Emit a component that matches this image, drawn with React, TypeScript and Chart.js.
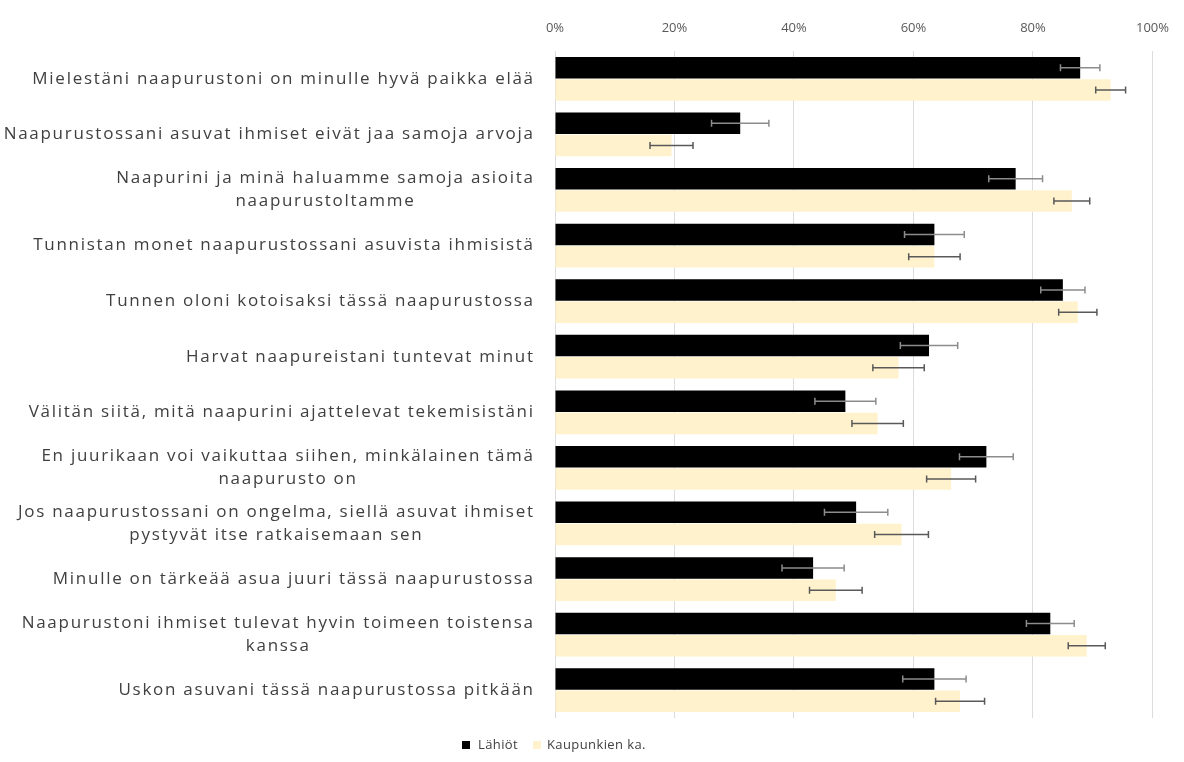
import React, { useEffect, useRef } from "react";
import { Chart, registerables } from "chart.js";

Chart.register(...registerables);

const categories: string[][] = [
  ["Mielestäni naapurustoni on minulle hyvä paikka elää"],
  ["Naapurustossani asuvat ihmiset eivät jaa samoja arvoja"],
  ["Naapurini ja minä haluamme samoja asioita", "naapurustoltamme"],
  ["Tunnistan monet naapurustossani asuvista ihmisistä"],
  ["Tunnen oloni kotoisaksi tässä naapurustossa"],
  ["Harvat naapureistani tuntevat minut"],
  ["Välitän siitä, mitä naapurini ajattelevat tekemisistäni"],
  ["En juurikaan voi vaikuttaa siihen, minkälainen tämä", "naapurusto on"],
  ["Jos naapurustossani on ongelma, siellä asuvat ihmiset", "pystyvät itse ratkaisemaan sen"],
  ["Minulle on tärkeää asua juuri tässä naapurustossa"],
  ["Naapurustoni ihmiset tulevat hyvin toimeen toistensa", "kanssa"],
  ["Uskon asuvani tässä naapurustossa pitkään"],
];

const seriesNames = ["Lähiöt", "Kaupunkien ka."];
const lahiot = [87.9, 31.0, 77.1, 63.5, 85.0, 62.6, 48.6, 72.2, 50.4, 43.2, 82.9, 63.5];
const lahiotErr = [3.3, 4.8, 4.5, 5.0, 3.7, 4.8, 5.1, 4.5, 5.3, 5.2, 4.0, 5.3];
const kaupungit = [93.0, 19.5, 86.5, 63.5, 87.5, 57.5, 54.0, 66.3, 58.0, 47.0, 89.0, 67.8];
const kaupungitErr = [2.5, 3.6, 3.0, 4.3, 3.2, 4.3, 4.3, 4.1, 4.5, 4.4, 3.1, 4.1];
const xTicks = [0, 20, 40, 60, 80, 100];

const FONT = "'Open Sans', Lato, sans-serif";
const BLACK = "#000000";
const CREAM = "#FFF2CC";
const TEXT = "#404040";

const errorBarPlugin = {
  id: "errorBars",
  afterDatasetsDraw(chart: any) {
    const ctx = chart.ctx;
    const x = chart.scales.x;
    const errs = [lahiotErr, kaupungitErr];
    const colors = ["#8c8c8c", "#595959"];
    chart.data.datasets.forEach((ds: any, di: number) => {
      const meta = chart.getDatasetMeta(di);
      meta.data.forEach((bar: any, i: number) => {
        const v = ds.data[i];
        const e = errs[di][i];
        const x1 = x.getPixelForValue(v - e);
        const x2 = x.getPixelForValue(v + e);
        const y = bar.y;
        ctx.save();
        ctx.strokeStyle = colors[di];
        ctx.lineWidth = 1.5;
        ctx.beginPath();
        ctx.moveTo(x1, y);
        ctx.lineTo(x2, y);
        ctx.moveTo(x1, y - 3.5);
        ctx.lineTo(x1, y + 3.5);
        ctx.moveTo(x2, y - 3.5);
        ctx.lineTo(x2, y + 3.5);
        ctx.stroke();
        ctx.restore();
      });
    });
  },
};

const labelPlugin = {
  id: "catLabels",
  afterDraw(chart: any) {
    const ctx = chart.ctx;
    const y = chart.scales.y;
    const rightX = 533;
    const lineH = 23;
    ctx.save();
    ctx.font = `17px ${FONT}`;
    ctx.letterSpacing = "0px";
    const ref = categories[1][0];
    const w0 = ctx.measureText(ref).width;
    const ls = Math.max(0, (531 - w0) / ref.length);
    ctx.letterSpacing = `${ls.toFixed(2)}px`;
    ctx.fillStyle = TEXT;
    ctx.textBaseline = "middle";
    ctx.textAlign = "left";
    categories.forEach((lines, i) => {
      const cy = y.getPixelForValue(i);
      const widths = lines.map((l) => ctx.measureText(l).width - ls);
      const w = Math.max(...widths);
      const cx = rightX - w / 2;
      const y0 = cy - ((lines.length - 1) * lineH) / 2;
      lines.forEach((l, k) => ctx.fillText(l, cx - widths[k] / 2, y0 + k * lineH));
    });

    // legend
    ctx.font = `13px ${FONT}`;
    ctx.letterSpacing = "0.4px";
    ctx.textAlign = "left";
    const ly = 745;
    ctx.fillStyle = BLACK;
    ctx.fillRect(462, ly - 4, 8, 8);
    ctx.fillStyle = TEXT;
    ctx.fillText(seriesNames[0], 478, ly);
    ctx.fillStyle = CREAM;
    ctx.fillRect(533, ly - 4, 8, 8);
    ctx.fillStyle = TEXT;
    ctx.fillText(seriesNames[1], 547, ly);
    ctx.restore();
  },
};

export default function App() {
  const ref = useRef<HTMLCanvasElement>(null);
  useEffect(() => {
    if (!ref.current) return;
    const chart = new Chart(ref.current, {
      type: "bar",
      data: {
        labels: categories.map((c) => c.join(" ")),
        datasets: [
          {
            label: seriesNames[0],
            data: lahiot,
            backgroundColor: BLACK,
            categoryPercentage: 0.8,
            barPercentage: 0.97,
          },
          {
            label: seriesNames[1],
            data: kaupungit,
            backgroundColor: CREAM,
            categoryPercentage: 0.8,
            barPercentage: 0.97,
          },
        ],
      },
      options: {
        indexAxis: "y",
        animation: false,
        responsive: true,
        maintainAspectRatio: false,
        layout: { padding: { top: 0, right: 0, bottom: 44, left: 0 } },
        plugins: {
          legend: { display: false },
          tooltip: { enabled: false },
        },
        scales: {
          x: {
            position: "top",
            min: 0,
            max: 100,
            afterBuildTicks: (axis: any) => {
              axis.ticks = xTicks.map((v) => ({ value: v }));
            },
            afterFit: (axis: any) => {
              axis.height = 51;
            },
            ticks: {
              callback: (v: any) => `${v}%`,
              color: "#595959",
              font: { family: FONT, size: 13 },
              padding: 15,
            },
            grid: { color: "#dcdcdc", lineWidth: 1, drawTicks: false },
            border: { display: false },
          },
          y: {
            afterFit: (axis: any) => {
              axis.width = 555;
            },
            ticks: { display: false },
            grid: { display: false },
            border: { display: false },
          },
        },
      },
      plugins: [errorBarPlugin, labelPlugin],
    });
    return () => chart.destroy();
  }, []);
  return (
    <div style={{ position: "fixed", left: 0, top: 0, width: 1184, height: 762 }}>
      <canvas ref={ref} />
    </div>
  );
}
